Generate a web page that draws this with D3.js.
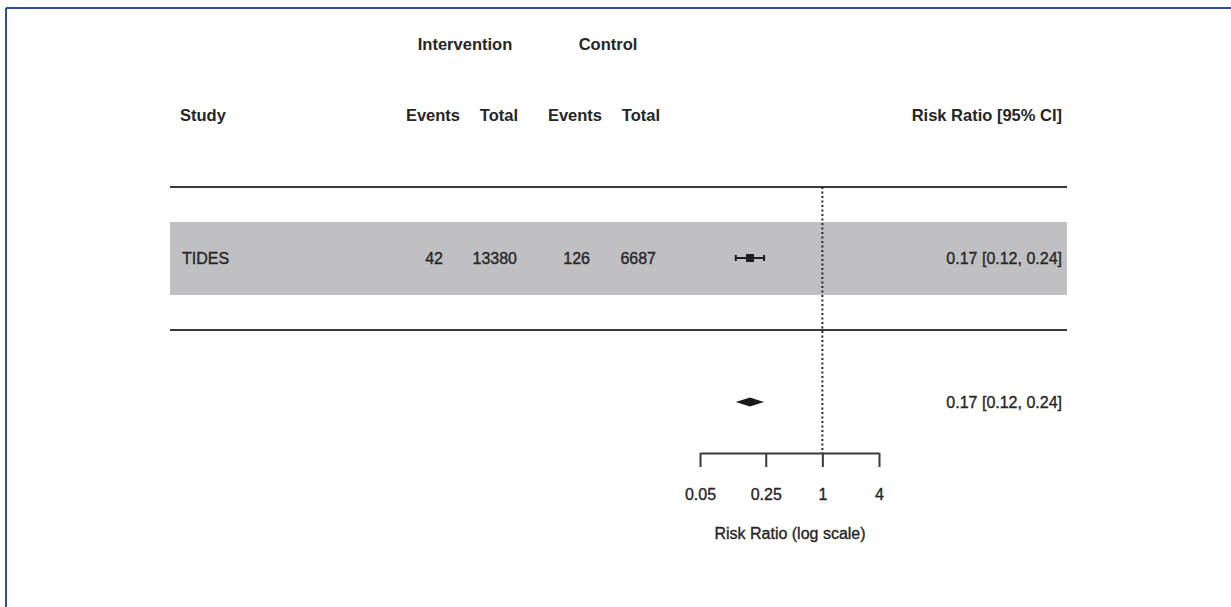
<!DOCTYPE html>
<html>
<head>
<meta charset="utf-8">
<script src="https://cdn.jsdelivr.net/npm/d3@7"></script>
<style>
  html, body { margin: 0; padding: 0; background: #fff; }
  svg { display: block; }
  text { font-family: "Liberation Sans", Arial, Helvetica, sans-serif; fill: #262626; }
  .hdr { font-weight: bold; font-size: 16.5px; }
  .cell { font-size: 16px; stroke: #262626; stroke-width: 0.35px; }
  .axis text { font-size: 16px; fill: #262626; stroke: #262626; stroke-width: 0.35px; }
</style>
</head>
<body>
<svg id="chart" width="1231" height="607"></svg>
<script>
// Study-level data
const studies = ["TIDES"];
const interventionEvents = [42];
const interventionTotal = [13380];
const controlEvents = [126];
const controlTotal = [6687];
const riskRatio = [0.17];
const ciLower = [0.12];
const ciUpper = [0.24];

// Pooled estimate
const pooledRR = 0.17;
const pooledLower = 0.12;
const pooledUpper = 0.24;

// Axis ticks (log scale)
const axisTicks = [0.05, 0.25, 1, 4];
const axisTickLabels = ["0.05", "0.25", "1", "4"];

const fmt = d3.format(".2f");

const svg = d3.select("#chart");

// page frame (top and left rules)
svg.append("line").attr("x1", 6).attr("x2", 1231).attr("y1", 8).attr("y2", 8)
  .attr("stroke", "#2c4fa3").attr("stroke-width", 2);
svg.append("line").attr("x1", 6).attr("x2", 6).attr("y1", 8).attr("y2", 607)
  .attr("stroke", "#2c4fa3").attr("stroke-width", 2);

const x = d3.scaleLog().domain([0.05, 4]).range([700, 879]);

const tableLeft = 170, tableRight = 1067;
const topRule = 187, bottomRule = 330;
const rowTop = 222, rowBottom = 295;
const rowY = 258, pooledY = 402;
const axisY = 453;

// shaded study row
svg.append("rect")
  .attr("x", tableLeft).attr("y", rowTop)
  .attr("width", tableRight - tableLeft).attr("height", rowBottom - rowTop)
  .attr("fill", "#c0c0c2");

// horizontal rules
[topRule, bottomRule].forEach(y => {
  svg.append("line").attr("x1", tableLeft).attr("x2", tableRight)
    .attr("y1", y).attr("y2", y)
    .attr("stroke", "#3a3a3a").attr("stroke-width", 2);
});

// line of no effect
svg.append("line")
  .attr("x1", x(1)).attr("x2", x(1))
  .attr("y1", topRule).attr("y2", axisY)
  .attr("stroke", "#2a2a2a").attr("stroke-width", 2)
  .attr("stroke-dasharray", "2,2.5");

// headers
const headers = [
  { t: "Intervention", x: 465, y: 50, a: "middle" },
  { t: "Control", x: 608, y: 50, a: "middle" },
  { t: "Study", x: 180, y: 121, a: "start" },
  { t: "Events", x: 460, y: 121, a: "end" },
  { t: "Total", x: 518, y: 121, a: "end" },
  { t: "Events", x: 602, y: 121, a: "end" },
  { t: "Total", x: 660, y: 121, a: "end" },
  { t: "Risk Ratio [95% CI]", x: 1062, y: 121, a: "end" }
];
svg.selectAll("text.hdr").data(headers).enter().append("text")
  .attr("class", "hdr")
  .attr("x", d => d.x).attr("y", d => d.y)
  .attr("text-anchor", d => d.a)
  .text(d => d.t);

// study rows
const rows = studies.map((s, i) => ({
  study: s,
  ie: interventionEvents[i], it: interventionTotal[i],
  ce: controlEvents[i], ct: controlTotal[i],
  rr: riskRatio[i], lo: ciLower[i], hi: ciUpper[i]
}));

const colEnds = [443, 517, 590, 656];
rows.forEach(r => {
  svg.append("text").attr("class", "cell").attr("x", 182).attr("y", rowY + 6).text(r.study);
  [r.ie, r.it, r.ce, r.ct].forEach((v, j) => {
    svg.append("text").attr("class", "cell").attr("x", colEnds[j]).attr("y", rowY + 6)
      .attr("text-anchor", "end").text(v);
  });
  svg.append("text").attr("class", "cell").attr("x", 1062).attr("y", rowY + 6)
    .attr("text-anchor", "end")
    .text(`${fmt(r.rr)} [${fmt(r.lo)}, ${fmt(r.hi)}]`);

  // confidence interval with end caps
  const g = svg.append("g").attr("stroke", "#1e1e1e").attr("stroke-width", 2);
  g.append("line").attr("x1", x(r.lo)).attr("x2", x(r.hi)).attr("y1", rowY).attr("y2", rowY);
  g.append("line").attr("x1", x(r.lo)).attr("x2", x(r.lo)).attr("y1", rowY - 3).attr("y2", rowY + 3);
  g.append("line").attr("x1", x(r.hi)).attr("x2", x(r.hi)).attr("y1", rowY - 3).attr("y2", rowY + 3);
  svg.append("rect")
    .attr("x", x(r.rr) - 4).attr("y", rowY - 4)
    .attr("width", 8).attr("height", 8)
    .attr("fill", "#1e1e1e");
});

// pooled diamond
svg.append("polygon")
  .attr("points", [
    [x(pooledLower), pooledY],
    [x(pooledRR), pooledY - 4.5],
    [x(pooledUpper), pooledY],
    [x(pooledRR), pooledY + 4.5]
  ].map(p => p.join(",")).join(" "))
  .attr("fill", "#1a1a1a");
svg.append("text").attr("class", "cell").attr("x", 1062).attr("y", pooledY + 6)
  .attr("text-anchor", "end")
  .text(`${fmt(pooledRR)} [${fmt(pooledLower)}, ${fmt(pooledUpper)}]`);

// log-scale axis
const axis = d3.axisBottom(x)
  .tickValues(axisTicks)
  .tickFormat((d, i) => axisTickLabels[i])
  .tickSizeInner(14)
  .tickSizeOuter(0)
  .tickPadding(22);
const ag = svg.append("g").attr("class", "axis")
  .attr("transform", `translate(0,${axisY})`)
  .call(axis);
ag.select(".domain").attr("stroke", "#3a3a3a").attr("stroke-width", 2);
ag.selectAll(".tick line").attr("stroke", "#3a3a3a").attr("stroke-width", 2);
ag.selectAll(".tick text").attr("font-family", null).attr("font-size", null);

svg.append("text").attr("class", "cell")
  .attr("x", 790).attr("y", 539)
  .attr("text-anchor", "middle")
  .text("Risk Ratio (log scale)");
</script>
</body>
</html>
